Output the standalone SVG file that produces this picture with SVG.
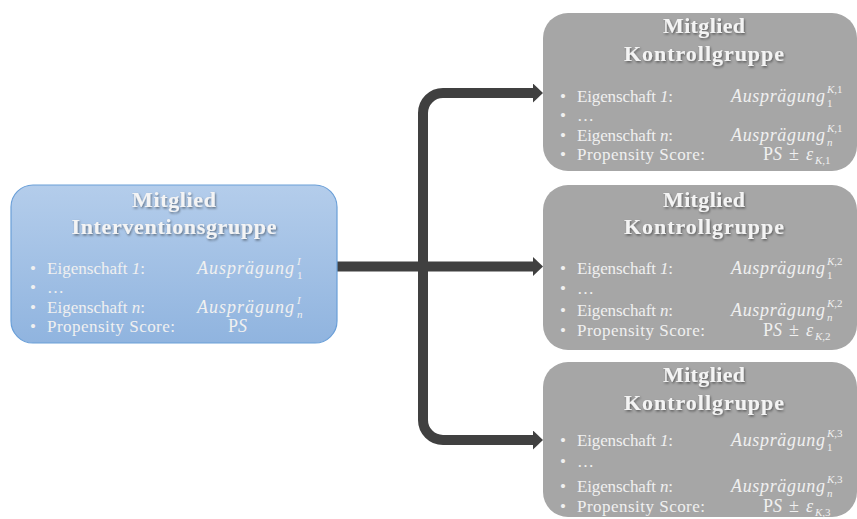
<svg xmlns="http://www.w3.org/2000/svg" width="857" height="519" viewBox="0 0 857 519" font-family="'Liberation Serif', 'Times New Roman', 'DejaVu Serif', serif">
  <defs>
    <linearGradient id="blueFill" x1="0" y1="0" x2="0" y2="1">
      <stop offset="0" stop-color="#b4cdeb"/>
      <stop offset="1" stop-color="#90b4df"/>
    </linearGradient>
    <filter id="titleShadow" x="-10%" y="-30%" width="120%" height="160%">
      <feDropShadow dx="1" dy="1.5" stdDeviation="1" flood-color="#000" flood-opacity="0.45"/>
    </filter>
    <marker id="head" viewBox="0 0 10 19" refX="0" refY="9.5" markerWidth="10" markerHeight="19" markerUnits="userSpaceOnUse" orient="auto">
      <path d="M0,0 L10,9.5 L0,19 z" fill="#404040"/>
    </marker>
    <style>
      .blue { fill: url(#blueFill); stroke: #6a9fd8; stroke-width: 1.2; }
      .gray { fill: #a6a6a6; }
      text { font-family: "Liberation Serif", "Times New Roman", "DejaVu Serif", serif; }
      .title { font-weight: bold; font-size: 22px; fill: #f4f4f4; text-anchor: middle; filter: url(#titleShadow); }
      .body { font-size: 17px; fill: #f0f0f0; }
      .math { font-style: italic; font-size: 18px; fill: #f0f0f0; }
      .idx { font-size: 11px; }
      .it { font-style: italic; }
      .up { font-style: normal; }
      .link { fill: none; stroke: #404040; stroke-width: 10; }
    </style>
  </defs>

  <rect width="857" height="519" fill="#ffffff"/>

  <!-- connectors -->
  <g id="connectors">
    <path class="link" d="M337,266.5 H533" marker-end="url(#head)"/>
    <path class="link" d="M423,271 V113 A20,20 0 0 1 443,93 H533" marker-end="url(#head)"/>
    <path class="link" d="M423,262 V420 A20,20 0 0 0 443,440 H533" marker-end="url(#head)"/>
  </g>

  <!-- intervention group member -->
  <g id="intervention">
    <rect class="blue" x="11" y="185" width="326" height="158" rx="22"/>
    <text class="title" x="174" y="207" textLength="84">Mitglied</text>
    <text class="title" x="174" y="234" textLength="205">Interventionsgruppe</text>
    <text class="body" x="30" y="274">•</text>
    <text class="body" x="47" y="274" textLength="98">Eigenschaft <tspan class="it">1</tspan>:</text>
    <text class="body" x="30" y="293">•</text>
    <text class="body" x="47" y="293">…</text>
    <text class="body" x="30" y="313">•</text>
    <text class="body" x="47" y="313" textLength="98">Eigenschaft <tspan class="it">n</tspan>:</text>
    <text class="body" x="30" y="332">•</text>
    <text class="body" x="47" y="332" textLength="128">Propensity Score:</text>
    <text class="math" x="197" y="274"><tspan textLength="97">Ausprägung</tspan><tspan class="idx" x="297" dy="-9">I</tspan><tspan class="idx up" x="297" dy="14">1</tspan></text>
    <text class="math" x="197" y="313"><tspan textLength="97">Ausprägung</tspan><tspan class="idx" x="297" dy="-9">I</tspan><tspan class="idx" x="297" dy="14">n</tspan></text>
    <text class="math" x="228" y="332"><tspan class="up">P</tspan>S</text>
  </g>

  <!-- control group member 1 -->
  <g id="control1">
    <rect class="gray" x="543" y="13" width="314" height="158" rx="25"/>
    <text class="title" x="704" y="33" textLength="82">Mitglied</text>
    <text class="title" x="704" y="61" textLength="160">Kontrollgruppe</text>
    <text class="body" x="560" y="102">•</text>
    <text class="body" x="577" y="102" textLength="96">Eigenschaft <tspan class="it">1</tspan>:</text>
    <text class="body" x="560" y="121">•</text>
    <text class="body" x="577" y="121">…</text>
    <text class="body" x="560" y="141">•</text>
    <text class="body" x="577" y="141" textLength="96">Eigenschaft <tspan class="it">n</tspan>:</text>
    <text class="body" x="560" y="160">•</text>
    <text class="body" x="577" y="160" textLength="128">Propensity Score:</text>
    <text class="math" x="731" y="102"><tspan textLength="94">Ausprägung</tspan><tspan class="idx" x="827" dy="-9">K<tspan class="up">,1</tspan></tspan><tspan class="idx up" x="827" dy="14">1</tspan></text>
    <text class="math" x="731" y="141"><tspan textLength="94">Ausprägung</tspan><tspan class="idx" x="827" dy="-9">K<tspan class="up">,1</tspan></tspan><tspan class="idx" x="827" dy="14">n</tspan></text>
    <text class="math" x="763" y="160"><tspan class="up">P</tspan>S<tspan class="up" x="789">±</tspan><tspan x="806">ε</tspan><tspan class="idx" x="815" dy="4">K<tspan class="up">,1</tspan></tspan></text>
  </g>

  <!-- control group member 2 -->
  <g id="control2">
    <rect class="gray" x="543" y="185" width="314" height="165" rx="25"/>
    <text class="title" x="704" y="207" textLength="82">Mitglied</text>
    <text class="title" x="704" y="234" textLength="160">Kontrollgruppe</text>
    <text class="body" x="560" y="274">•</text>
    <text class="body" x="577" y="274" textLength="96">Eigenschaft <tspan class="it">1</tspan>:</text>
    <text class="body" x="560" y="294">•</text>
    <text class="body" x="577" y="294">…</text>
    <text class="body" x="560" y="316">•</text>
    <text class="body" x="577" y="316" textLength="96">Eigenschaft <tspan class="it">n</tspan>:</text>
    <text class="body" x="560" y="336">•</text>
    <text class="body" x="577" y="336" textLength="128">Propensity Score:</text>
    <text class="math" x="731" y="274"><tspan textLength="94">Ausprägung</tspan><tspan class="idx" x="827" dy="-9">K<tspan class="up">,2</tspan></tspan><tspan class="idx up" x="827" dy="14">1</tspan></text>
    <text class="math" x="731" y="316"><tspan textLength="94">Ausprägung</tspan><tspan class="idx" x="827" dy="-9">K<tspan class="up">,2</tspan></tspan><tspan class="idx" x="827" dy="14">n</tspan></text>
    <text class="math" x="763" y="336"><tspan class="up">P</tspan>S<tspan class="up" x="789">±</tspan><tspan x="806">ε</tspan><tspan class="idx" x="815" dy="4">K<tspan class="up">,2</tspan></tspan></text>
  </g>

  <!-- control group member 3 -->
  <g id="control3">
    <rect class="gray" x="543" y="362" width="314" height="155" rx="25"/>
    <text class="title" x="704" y="382" textLength="82">Mitglied</text>
    <text class="title" x="704" y="410" textLength="160">Kontrollgruppe</text>
    <text class="body" x="560" y="446">•</text>
    <text class="body" x="577" y="446" textLength="96">Eigenschaft <tspan class="it">1</tspan>:</text>
    <text class="body" x="560" y="467">•</text>
    <text class="body" x="577" y="467">…</text>
    <text class="body" x="560" y="492">•</text>
    <text class="body" x="577" y="492" textLength="96">Eigenschaft <tspan class="it">n</tspan>:</text>
    <text class="body" x="560" y="512">•</text>
    <text class="body" x="577" y="512" textLength="128">Propensity Score:</text>
    <text class="math" x="731" y="446"><tspan textLength="94">Ausprägung</tspan><tspan class="idx" x="827" dy="-9">K<tspan class="up">,3</tspan></tspan><tspan class="idx up" x="827" dy="14">1</tspan></text>
    <text class="math" x="731" y="492"><tspan textLength="94">Ausprägung</tspan><tspan class="idx" x="827" dy="-9">K<tspan class="up">,3</tspan></tspan><tspan class="idx" x="827" dy="14">n</tspan></text>
    <text class="math" x="763" y="512"><tspan class="up">P</tspan>S<tspan class="up" x="789">±</tspan><tspan x="806">ε</tspan><tspan class="idx" x="815" dy="4">K<tspan class="up">,3</tspan></tspan></text>
  </g>
</svg>
